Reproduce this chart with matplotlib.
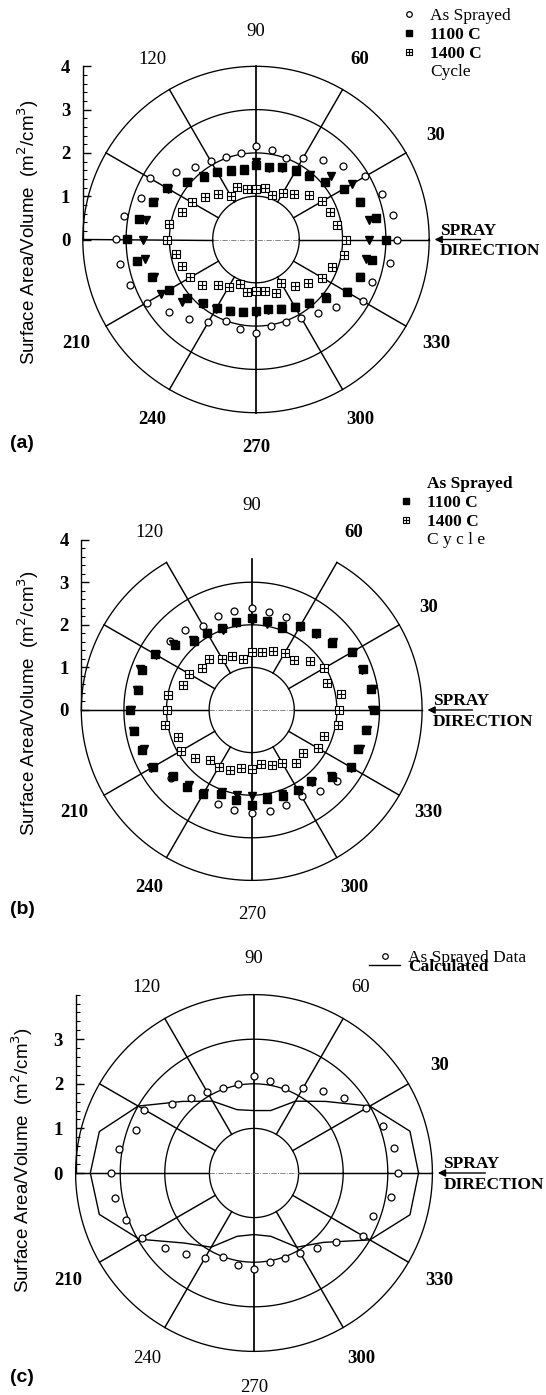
import numpy as np
import matplotlib
matplotlib.use('Agg')
import matplotlib.pyplot as plt
from matplotlib.path import Path
from matplotlib.lines import Line2D
from matplotlib.ticker import FixedLocator

plt.rcParams['font.family'] = ['Liberation Serif', 'DejaVu Serif']

W, H = 546, 1395

# angles of the measured points
ang10 = np.arange(0, 360, 10)
ang15 = np.arange(0, 361, 15)

# panel (a)
a_sprayed = [3.25, 3.21, 3.10, 2.91, 2.63, 2.39, 2.18, 2.01, 2.10, 2.17, 2.03, 2.02,
             2.09, 2.19, 2.41, 2.83, 2.83, 3.10, 3.23, 3.20, 3.09, 2.91, 2.61, 2.39,
             2.20, 2.00, 2.11, 2.15, 2.03, 2.03, 2.10, 2.21, 2.41, 2.86, 2.85, 3.14]
a_1100 = [3.00, 2.82, 2.55, 2.35, 2.07, 1.91, 1.83, 1.77, 1.69, 1.72, 1.63, 1.68,
          1.81, 1.88, 2.07, 2.38, 2.54, 2.74, 2.98, 2.80, 2.55, 2.33, 2.09, 1.90,
          1.82, 1.75, 1.69, 1.66, 1.63, 1.71, 1.79, 1.92, 2.11, 2.43, 2.55, 2.72]
a_1400 = [2.08, 1.90, 1.83, 1.77, 1.60, 1.36, 1.25, 1.09, 1.21, 1.16, 1.18, 1.28,
          1.15, 1.36, 1.53, 1.72, 1.83, 2.04, 2.05, 1.87, 1.82, 1.75, 1.62, 1.37,
          1.26, 1.10, 1.23, 1.18, 1.21, 1.32, 1.16, 1.40, 1.56, 1.76, 1.87, 2.07]
a_cycle = [2.60, 2.64, 2.55, 2.55, 2.27, 1.95, 1.85, 1.75, 1.68, 1.78, 1.65, 1.70,
           1.80, 1.90, 2.06, 2.35, 2.50, 2.58, 2.62, 2.60, 2.50, 2.53, 2.24, 1.95,
           1.85, 1.75, 1.70, 1.70, 1.66, 1.72, 1.80, 1.92, 2.08, 2.43, 2.55, 2.59]

# panel (b)
b_sprayed = [2.86, 2.85, 2.78, 2.71, 2.46, 2.35, 2.29, 2.33, 2.34, 2.40, 2.37, 2.34,
             2.29, 2.45, 2.51, 2.63, 2.74, 2.70, 2.86, 2.80, 2.74, 2.68, 2.47, 2.35,
             2.27, 2.34, 2.38, 2.42, 2.41, 2.38, 2.34, 2.49, 2.61, 2.68, 2.66, 2.72]
b_1100 = [2.86, 2.85, 2.78, 2.71, 2.46, 2.35, 2.29, 2.06, 2.11, 2.16, 2.09, 2.05,
          2.09, 2.10, 2.36, 2.63, 2.74, 2.70, 2.86, 2.80, 2.74, 2.68, 2.41, 2.35,
          2.27, 2.09, 2.14, 2.22, 2.11, 2.14, 2.17, 2.18, 2.45, 2.68, 2.66, 2.72]
b_1400 = [2.05, 2.12, 1.87, 1.97, 1.80, 1.53, 1.54, 1.48, 1.39, 1.36, 1.22, 1.34,
          1.38, 1.57, 1.53, 1.70, 1.72, 2.00, 1.99, 2.07, 1.84, 1.91, 1.75, 1.52,
          1.55, 1.51, 1.38, 1.39, 1.28, 1.38, 1.43, 1.62, 1.58, 1.79, 1.80, 2.06]
b_cycle = [2.83, 2.88, 2.75, 2.74, 2.50, 2.33, 2.25, 2.10, 2.05, 2.10, 2.08, 2.00,
           2.10, 2.14, 2.40, 2.60, 2.78, 2.74, 2.83, 2.84, 2.70, 2.72, 2.44, 2.30,
           2.24, 2.05, 2.02, 2.02, 2.08, 2.10, 2.20, 2.22, 2.42, 2.70, 2.70, 2.75]

# panel (c)
c_sprayed = [3.22, 3.19, 3.07, 2.90, 2.63, 2.41, 2.21, 2.03, 2.09, 2.18, 2.03, 2.03,
             2.09, 2.20, 2.40, 2.84, 2.81, 3.08, 3.20, 3.17, 3.06, 2.90, 2.60, 2.37,
             2.20, 2.00, 2.09, 2.16, 2.02, 2.03, 2.08, 2.19, 2.39, 2.82, 2.83, 3.11]
c_calc = [3.69, 3.62, 3.00, 2.27, 1.86, 1.45, 1.40, 1.47, 1.86, 2.27, 3.00, 3.59, 3.67,
          3.59, 2.97, 2.22, 1.92, 1.47, 1.38, 1.47, 1.92, 2.20, 3.00, 3.62, 3.69]

# square with a cross inside
boxplus = Path([(-1, -1), (1, -1), (1, 1), (-1, 1), (-1, -1), (-1, 0), (1, 0), (0, -1), (0, 1)],
               [Path.MOVETO, Path.LINETO, Path.LINETO, Path.LINETO, Path.CLOSEPOLY,
                Path.MOVETO, Path.LINETO, Path.MOVETO, Path.LINETO])


def pol(theta, r):
    t = np.deg2rad(np.asarray(theta, dtype=float))
    r = np.asarray(r, dtype=float)
    return r * np.cos(t), r * np.sin(t)


fig = plt.figure(figsize=(W / 100, H / 100), dpi=100)


def panel(cx, cy, unit, top, bottom, ticks, open_top=False):
    ax = fig.add_axes([0, 1 - bottom / H, 1, (bottom - top) / H])
    ax.set_xlim(-cx / unit, (W - cx) / unit)
    ax.set_ylim((cy - bottom) / unit, (cy - top) / unit)
    t = np.linspace(0, 2 * np.pi, 500)
    for r in [1, 2, 3]:
        ax.plot(r * np.cos(t), r * np.sin(t), color='k', lw=0.95)
    if open_top:
        t4 = np.linspace(np.deg2rad(120), np.deg2rad(420), 500)
    else:
        t4 = t
    ax.plot(4 * np.cos(t4), 4 * np.sin(t4), color='k', lw=0.95)
    for ang in [30, 60, 120, 150, 210, 240, 300, 330, 0, 180]:
        x, y = pol([ang, ang], [1, 4])
        ax.plot(x, y, color='k', lw=1.05)
    ax.plot([0, 0], [-4, 3.55 if open_top else 4], color='k', lw=1.25)
    ax.plot([-1, 1], [0, 0], color='0.45', lw=0.6, ls='-.')

    for s in ['top', 'right', 'bottom']:
        ax.spines[s].set_visible(False)
    ax.spines['left'].set_position(('data', -4))
    ax.spines['left'].set_bounds(0, 4)
    ax.spines['left'].set_linewidth(1.0)
    ax.set_xticks([])
    ax.set_yticks(ticks)
    ax.set_yticklabels([str(v) for v in ticks], fontweight='bold')
    ax.yaxis.set_minor_locator(FixedLocator(np.arange(0, 4.01, 0.2)))
    ax.tick_params(axis='y', which='major', direction='in', length=6, width=1,
                   pad=9, labelsize=13.5)
    ax.tick_params(axis='y', which='minor', direction='in', length=3, width=0.8)

    ax.annotate('', xy=(4.06, 0), xytext=(5.25, 0),
                arrowprops=dict(arrowstyle='-|>', color='k', lw=1.0, mutation_scale=11))
    ax.text(4.25, 0.2, 'SPRAY', fontsize=12.5, fontweight='bold', ha='left', va='center')
    ax.text(4.25, -0.27, 'DIRECTION', fontsize=12.5, fontweight='bold', ha='left', va='center')
    return ax


def angle_labels(ax, bold):
    for ang in [90, 120, 60, 30, 330, 210, 240, 300, 270]:
        x, y = pol(ang, 4.8)
        ax.text(x, y, str(ang), fontsize=13.5, ha='center', va='center',
                fontweight='bold' if ang in bold else 'normal')


def side_text(x, y, label, ylab):
    fig.text(x / W, 1 - y / H, ylab, rotation=90, family=['Liberation Sans', 'DejaVu Sans'],
             fontsize=13.5, ha='center', va='center')
    fig.text(22 / W, 1 - label[1] / H, label[0], family=['Liberation Sans', 'DejaVu Sans'],
             fontsize=14, fontweight='bold', ha='center', va='center')


def make_legend(ax, handles, labels, weights, x, y, **kw):
    opts = dict(handlelength=1, handletextpad=0.75, labelspacing=0.15)
    opts.update(kw)
    leg = ax.legend(handles, labels, loc='upper left', bbox_to_anchor=(x / W, 1 - y / H),
                    bbox_transform=fig.transFigure, frameon=False, borderpad=0,
                    borderaxespad=0, fontsize=12.5, markerscale=0.8, **opts)
    for txt, wt in zip(leg.get_texts(), weights):
        txt.set_fontweight(wt)
    return leg


ylab = 'Surface Area/Volume  (m$^{2}$/cm$^{3}$)'
sty_sp = dict(ls='none', marker='o', ms=5, mfc='white', mec='k', mew=0.9)
sty_11 = dict(ls='none', marker='s', ms=5.5, color='k')
sty_14 = dict(ls='none', marker=boxplus, ms=6, mfc='white', mec='k', mew=0.8)
sty_cy = dict(ls='none', marker='v', ms=5.5, color='k')
blank = Line2D([], [], ls='none')

# ---- (a)
ax = panel(256, 239.5, 43.3, 0, 462, [0, 1, 2, 3, 4])
h14, = ax.plot(*pol(ang10, a_1400), **sty_14)
hsp, = ax.plot(*pol(ang10, a_sprayed), **sty_sp)
ax.plot(*pol(ang10, a_cycle), **sty_cy)
h11, = ax.plot(*pol(ang10, a_1100), **sty_11)
angle_labels(ax, [60, 30, 330, 210, 240, 300, 270])
side_text(28, 232, ('(a)', 443), ylab)
make_legend(ax, [hsp, h11, h14, blank], ['As Sprayed', '1100 C', '1400 C', 'Cycle'],
            ['normal', 'bold', 'bold', 'normal'], 400, 8)

# ---- (b)
ax = panel(251.7, 710, 42.6, 462, 940, [0, 1, 2, 3, 4], open_top=True)
h14, = ax.plot(*pol(ang10, b_1400), **sty_14)
hsp, = ax.plot(*pol(ang10, b_sprayed), **sty_sp)
ax.plot(*pol(ang10, b_cycle), **sty_cy)
h11, = ax.plot(*pol(ang10, b_1100), **sty_11)
angle_labels(ax, [60, 30, 330, 210, 240, 300])
side_text(28, 703, ('(b)', 910), ylab)
make_legend(ax, [blank, h11, h14, blank], ['As Sprayed', '1100 C', '1400 C', 'C y c l e'],
            ['bold', 'bold', 'bold', 'normal'], 397, 476)

# ---- (c)
ax = panel(254, 1173, 44.6, 940, 1395, [0, 1, 2, 3])
hcalc, = ax.plot(*pol(ang15, c_calc), color='k', lw=1.0)
hsp, = ax.plot(*pol(ang10, c_sprayed), **sty_sp)
angle_labels(ax, [30, 330, 210, 300])
side_text(22, 1160, ('(c)', 1378), ylab)
make_legend(ax, [hsp, Line2D([], [], color='k', lw=1.0)], ['As Sprayed Data', 'Calculated'],
            ['normal', 'bold'], 369, 950, handlelength=1.8, handletextpad=0.45,
            labelspacing=-0.4)

fig.savefig('out.png', dpi=100)
